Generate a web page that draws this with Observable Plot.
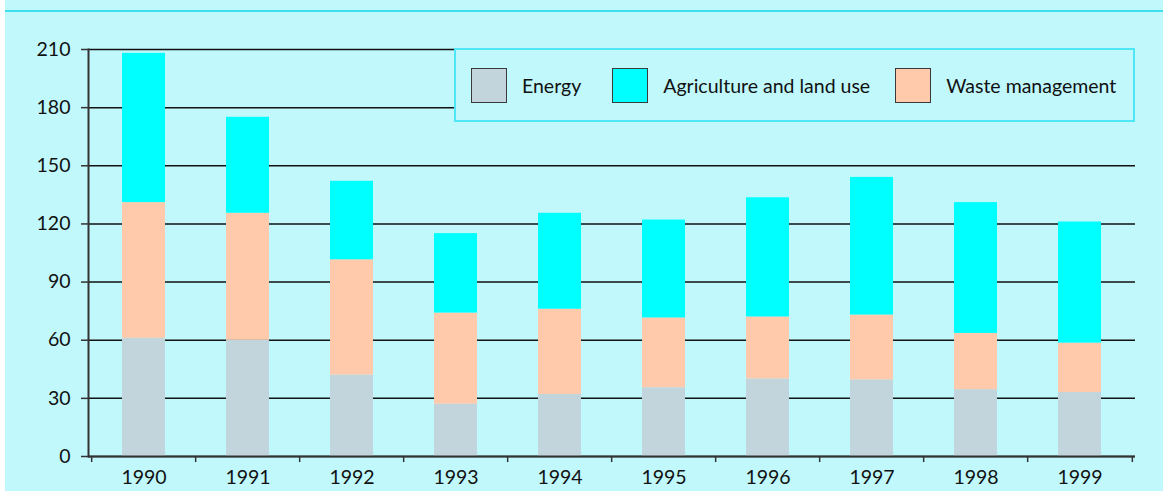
<!DOCTYPE html>
<html><head><meta charset="utf-8">
<script src="https://cdn.jsdelivr.net/npm/d3@7"></script>
<script src="https://cdn.jsdelivr.net/npm/@observablehq/plot@0.6"></script>
<style>
body{margin:0;background:#fff;}
#wrap{position:relative;width:1163px;height:491px;overflow:hidden;background:#fff;}
#bg{position:absolute;left:5px;top:0;width:1158px;height:491px;background:#C0F8FC;}
#topline{position:absolute;left:5px;top:10px;width:1158px;height:2px;background:#3FE0F2;}
#chart{position:absolute;left:0;top:0;}
#legend{position:absolute;left:454px;top:48px;width:677px;height:70px;border:2px solid #4FE6F6;background:#C0F8FC;display:flex;align-items:center;font-family:Lato,sans-serif;font-size:19.5px;color:#111;}
.sw{width:36px;height:35px;border:1px solid #3a3a3a;box-sizing:border-box;margin-right:15px;flex:none;}
.it{display:flex;align-items:center;}
</style></head>
<body>
<div id="wrap">
  <div id="bg"></div>
  <div id="topline"></div>
  <div id="chart"></div>
  <div id="legend"></div>
</div>
<script>
const years = ["1990","1991","1992","1993","1994","1995","1996","1997","1998","1999"];
const energy      = [61, 60, 42, 27, 32, 35.5, 40, 39.5, 34.5, 33];
const waste       = [70, 65.5, 59.5, 47, 44, 36, 32, 33.5, 29, 25.5];
const agriculture = [77, 49.5, 40.5, 41, 49.5, 50.5, 61.5, 71, 67.5, 62.5];
const stackOrder  = ["Energy", "Waste management", "Agriculture and land use"];
const legendOrder = ["Energy", "Agriculture and land use", "Waste management"];
const colors      = ["#C3D5DC", "#FFCAAB", "#00FFFF"];
const yTicks      = [0, 30, 60, 90, 120, 150, 180, 210];

const rows = years.flatMap((y, i) => [
  {year: y, sector: "Energy", value: energy[i]},
  {year: y, sector: "Waste management", value: waste[i]},
  {year: y, sector: "Agriculture and land use", value: agriculture[i]}
]);

const W = 1163, H = 491, ML = 88, MR = 28, MT = 49, MB = 35;
const step = (W - ML - MR) / years.length;

const chart = Plot.plot({
  width: W, height: H, marginLeft: ML, marginRight: MR, marginTop: MT, marginBottom: MB,
  style: {background: "transparent", fontFamily: "Lato, sans-serif", fontSize: "19.5px", color: "#111"},
  x: {domain: years, paddingInner: 0.59, paddingOuter: 0.295, axis: null, label: null},
  y: {domain: [0, 210], axis: null, label: null},
  color: {domain: stackOrder, range: colors},
  marks: [
    Plot.gridY({ticks: yTicks, stroke: "#111", strokeOpacity: 1, strokeWidth: 1.5}),
    Plot.barY(rows, {x: "year", y: "value", fill: "sector", order: stackOrder}),
    Plot.ruleY([0], {stroke: "#333", strokeWidth: 2}),
    Plot.frame({anchor: "left", stroke: "#333", strokeWidth: 2}),
    Plot.axisY({ticks: yTicks, tickSize: 7, tickPadding: 11, stroke: "#333", strokeWidth: 1.5, fontSize: 19.5, label: null}),
    Plot.axisX({ticks: years, tickSize: 6, dx: -step / 2, tickFormat: () => "", stroke: "#333", strokeWidth: 1.5, label: null}),
    Plot.axisX({ticks: [years[years.length - 1]], tickSize: 6, dx: step / 2, tickFormat: () => "", stroke: "#333", strokeWidth: 1.5, label: null}),
    Plot.axisX({ticks: years, tickSize: 0, tickPadding: 14, fontSize: 19.5, label: null})
  ]
});
document.getElementById("chart").appendChild(chart);

const color = d3.scaleOrdinal(stackOrder, colors);
const legend = document.getElementById("legend");
const gaps = [15, 31, 25];
legendOrder.forEach((name, i) => {
  const it = document.createElement("div");
  it.className = "it";
  it.style.marginLeft = gaps[i] + "px";
  const sw = document.createElement("div");
  sw.className = "sw";
  sw.style.background = color(name);
  const tx = document.createElement("span");
  tx.textContent = name;
  it.appendChild(sw); it.appendChild(tx);
  legend.appendChild(it);
});
</script>
</body></html>
